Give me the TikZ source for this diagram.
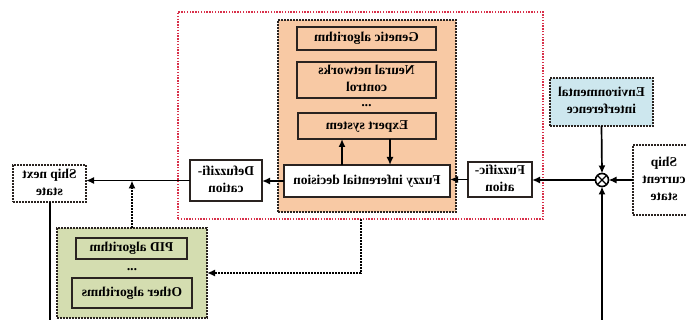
\documentclass[tikz,border=0pt]{standalone}
\usepackage{fontspec}
\usepackage{graphicx}
\setmainfont{Liberation Serif}
\usetikzlibrary{arrows.meta}
% mirrored, centred text block
\newcommand\mirtext[1]{\reflectbox{\begin{tabular}{@{}c@{}}#1\end{tabular}}}
\definecolor{peach}{HTML}{F8C9A4}
\definecolor{sage}{HTML}{D4DDB0}
\definecolor{skyfill}{HTML}{CDE7EE}
\definecolor{redline}{HTML}{D8304A}
\definecolor{inkline}{HTML}{2A2320}
\begin{document}
\begin{tikzpicture}[x=1pt,y=-1pt,
  every node/.style={inner sep=0pt,outer sep=0pt,align=center,
    font=\fontsize{13.5}{17}\selectfont\bfseries},
  solidbox/.style={draw=inkline,line width=1.9pt,fill=white},
  dotbox/.style={draw=inkline,line width=1.9pt,dash pattern=on 1.6pt off 1.4pt},
  arr/.style={-{Latex[length=8pt,width=7pt]},line width=1.7pt,draw=black},
  dotarr/.style={-{Latex[length=8pt,width=7pt]},line width=1.8pt,draw=black,dash pattern=on 1.6pt off 1.4pt},
  plainline/.style={line width=1.7pt,draw=black}]
\useasboundingbox (0,0) rectangle (687,320);

% controller frame and expert-method block
\node[draw=redline,line width=1.4pt,dash pattern=on 1.4pt off 1.4pt,minimum width=365pt,minimum height=207pt] (red) at (360.5,115.5) {};
\node[dotbox,fill=peach,minimum width=178pt,minimum height=192pt] (orange) at (367,116) {};
\node[solidbox,fill=peach,minimum width=139pt,minimum height=23pt] (genetic) at (366.5,38.5) {\mirtext{Genetic algorithm}};
\node[solidbox,fill=peach,minimum width=139pt,minimum height=36pt] (neural) at (366.5,80) {\mirtext{Neural networks\\control}};
\node (dotsa) at (366.5,103) {\mirtext{...}};
\node[solidbox,fill=peach,minimum width=138pt,minimum height=26pt] (expert) at (367,126) {\mirtext{Expert system}};
\node[solidbox,minimum width=166pt,minimum height=32pt] (fuzzy) at (367,181) {\mirtext{Fuzzy inferential decision}};

\node[solidbox,minimum width=72pt,minimum height=41pt] (defuzz) at (226,180.5) {\mirtext{Defuzzifi-\\cation}};
\node[solidbox,minimum width=64pt,minimum height=35pt] (fuzzif) at (500,179.5) {\mirtext{Fuzzific-\\ation}};

% plant side
\node[dotbox,fill=white,minimum width=73pt,minimum height=37pt] (next) at (49.5,183.5) {\mirtext{Ship next\\state}};
\node[dotbox,fill=skyfill,minimum width=103pt,minimum height=48pt] (env) at (601.5,102) {\mirtext{Environmental\\interference}};
\node[dotbox,fill=white,minimum width=62pt,minimum height=70pt] (current) at (664,180) {\mirtext{Ship\\current\\state}};
\node[draw=black,line width=1.6pt,circle,minimum size=13pt] (sum) at (602,180) {};
\draw[line width=1.3pt] (sum.north west) -- (sum.south east) (sum.north east) -- (sum.south west);

% conventional algorithms
\node[dotbox,fill=sage,minimum width=150pt,minimum height=90pt] (green) at (132,273) {};
\node[solidbox,fill=sage,minimum width=111pt,minimum height=21pt] (pid) at (131.5,248.5) {\mirtext{PID algorithm}};
\node (dotsb) at (132,267) {\mirtext{...}};
\node[solidbox,fill=sage,minimum width=120pt,minimum height=30pt] (other) at (132,293) {\mirtext{Other algorithms}};

% signal flow
\coordinate (upx) at (342,0);
\coordinate (downx) at (390,0);
\coordinate (dropx) at (361,0);
\coordinate (bottomL) at (50,320);
\coordinate (bottomR) at (602,320);
\draw[arr] (fuzzy.north -| upx) -- (expert.south -| upx);
\draw[arr] (expert.south -| downx) -- (fuzzy.north -| downx);
\draw[arr] (fuzzif.west) -- (fuzzy.east |- fuzzif.west);
\draw[arr] (fuzzy.west) -- (defuzz.east |- fuzzy.west);
\draw[arr] (defuzz.west) -- (next.east |- defuzz.west);
\draw[arr] (sum.west) -- (fuzzif.east |- sum.west);
\draw[arr] (env.south) -- (sum.north);
\draw[arr] (current.west |- sum.east) -- (sum.east);
\draw[arr] (bottomR) -- (sum.south);
\draw[plainline] (next.south -| bottomL) -- (bottomL);
\draw[dotarr] (green.north) -- (green.north |- defuzz.west);
\draw[dotarr] (red.south -| dropx) |- (green.east);
\end{tikzpicture}
\end{document}
